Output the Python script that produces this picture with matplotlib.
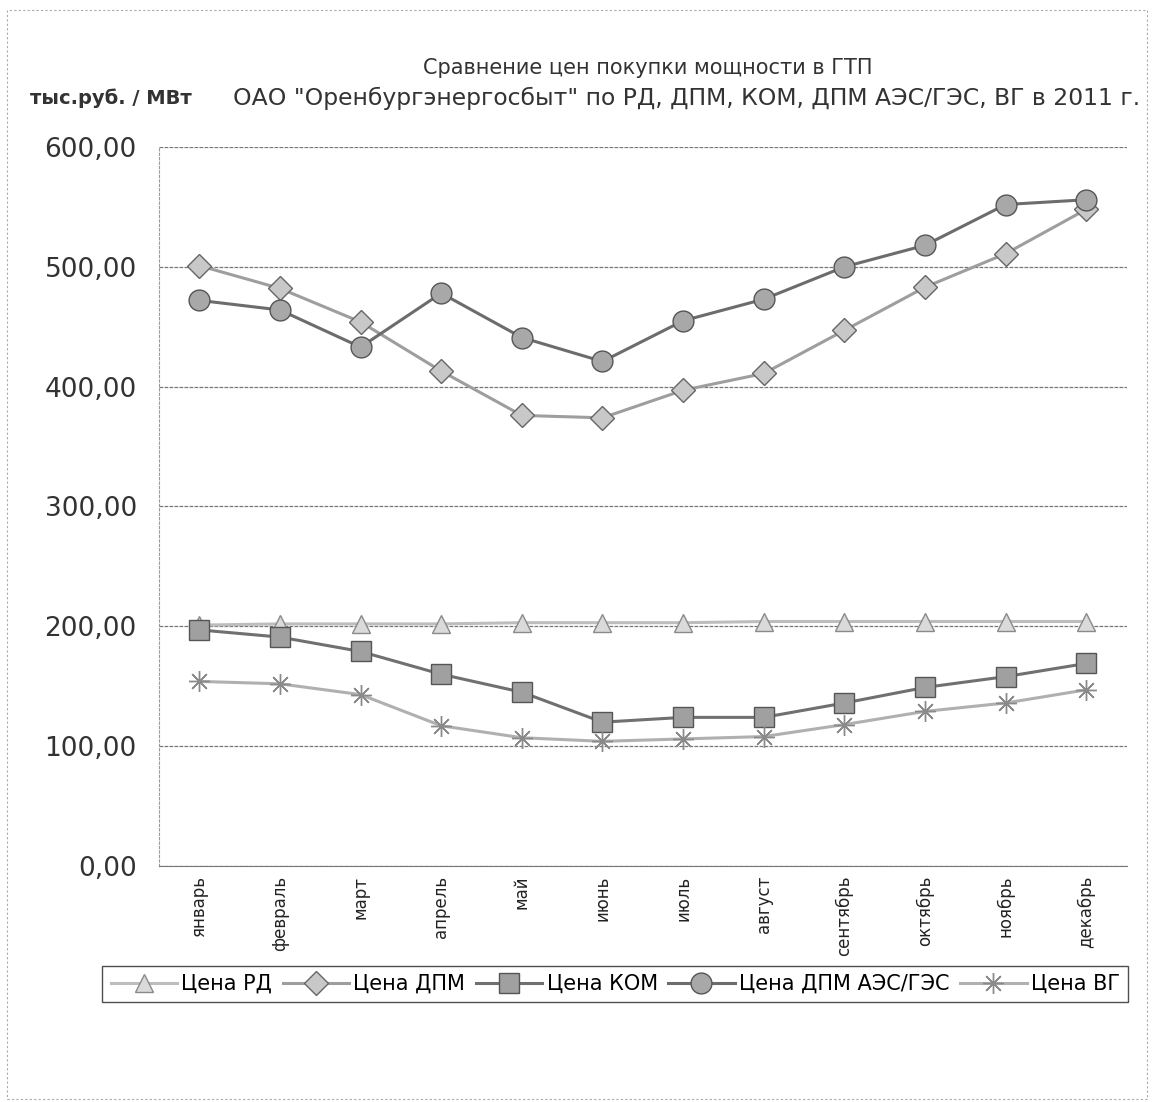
import matplotlib
matplotlib.use("Agg")
import matplotlib.pyplot as plt
from matplotlib.ticker import FuncFormatter
from matplotlib.patches import Rectangle

# data
months = ["январь", "февраль", "март", "апрель", "май", "июнь",
          "июль", "август", "сентябрь", "октябрь", "ноябрь", "декабрь"]
price_rd = [201, 202, 202, 202, 203, 203, 203, 204, 204, 204, 204, 204]
price_dpm = [501, 482, 454, 413, 376, 374, 397, 411, 447, 483, 511, 548]
price_kom = [197, 191, 179, 160, 145, 120, 124, 124, 136, 149, 158, 169]
price_dpm_aes = [472, 464, 433, 478, 441, 421, 455, 473, 500, 518, 552, 556]
price_vg = [154, 152, 143, 117, 107, 104, 106, 108, 118, 129, 136, 147]

plt.rcParams['font.family'] = ['DejaVu Sans']

fig = plt.figure(figsize=(11.52, 11.02), dpi=100)
ax = fig.add_axes([0.138, 0.2142, 0.840, 0.6524])

x = list(range(len(months)))

# series: (values, label, line colour, marker, marker face, marker edge, marker size)
series = [
    (price_rd, "Цена РД", "#bdbdbd", "^", "#dadada", "#8a8a8a", 13),
    (price_dpm, "Цена ДПМ", "#9e9e9e", "D", "#c8c8c8", "#666666", 12),
    (price_kom, "Цена КОМ", "#707070", "s", "#a0a0a0", "#555555", 14),
    (price_dpm_aes, "Цена ДПМ АЭС/ГЭС", "#6c6c6c", "o", "#a8a8a8", "#555555", 15),
    (price_vg, "Цена ВГ", "#b0b0b0", (8, 2, 0), "#999999", "#8a8a8a", 15),
]

for vals, label, col, mk, mfc, mec, ms in series:
    ax.plot(x, vals, color=col, lw=2.2, marker=mk, markersize=ms,
            markerfacecolor=mfc, markeredgecolor=mec,
            markeredgewidth=1.0, label=label, zorder=3)

ax.set_xlim(-0.5, len(months) - 0.5)
ax.set_ylim(0, 600)
ax.set_yticks([0, 100, 200, 300, 400, 500, 600])
ax.yaxis.set_major_formatter(FuncFormatter(lambda v, p: f"{v:.2f}".replace(".", ",")))
ax.set_xticks(x)
ax.set_xticklabels(months, rotation=90, fontsize=12)
ax.tick_params(axis='y', labelsize=19, length=0, pad=16, colors="#333333")
ax.tick_params(axis='x', length=0, pad=7, colors="#222222")

ax.grid(axis='y', color="#777777", lw=0.9, ls=(0, (3, 1)))
ax.set_axisbelow(True)
for side in ["top", "right"]:
    ax.spines[side].set_visible(False)
ax.spines["left"].set_color("#999999")
ax.spines["left"].set_linestyle((0, (2, 2)))
ax.spines["bottom"].set_color("#777777")

fig.text(0.562, 0.938, "Сравнение цен покупки мощности в ГТП",
         ha="center", va="center", fontsize=15, color="#333333")
fig.text(0.202, 0.911, "ОАО \"Оренбургэнергосбыт\" по РД, ДПМ, КОМ, ДПМ АЭС/ГЭС, ВГ в 2011 г.",
         ha="left", va="center", fontsize=16.9, color="#333333")
fig.text(0.026, 0.911, "тыс.руб. / МВт", ha="left", va="center",
         fontsize=14, fontweight="bold", color="#333333")

leg = fig.legend(loc="center", bbox_to_anchor=(0.534, 0.107), ncol=5,
                 fontsize=15, frameon=True, fancybox=False, handlelength=3.2,
                 handletextpad=0.2, columnspacing=0.5, borderpad=0.4)
leg.get_frame().set_edgecolor("#222222")
leg.get_frame().set_linewidth(1.0)

# thin border of the chart area
fig.patches.append(Rectangle((0.006, 0.003), 0.99, 0.988, transform=fig.transFigure,
                             fill=False, ec="#aaaaaa", lw=0.8, ls=(0, (2, 2))))

fig.savefig("out.png", dpi=100)
